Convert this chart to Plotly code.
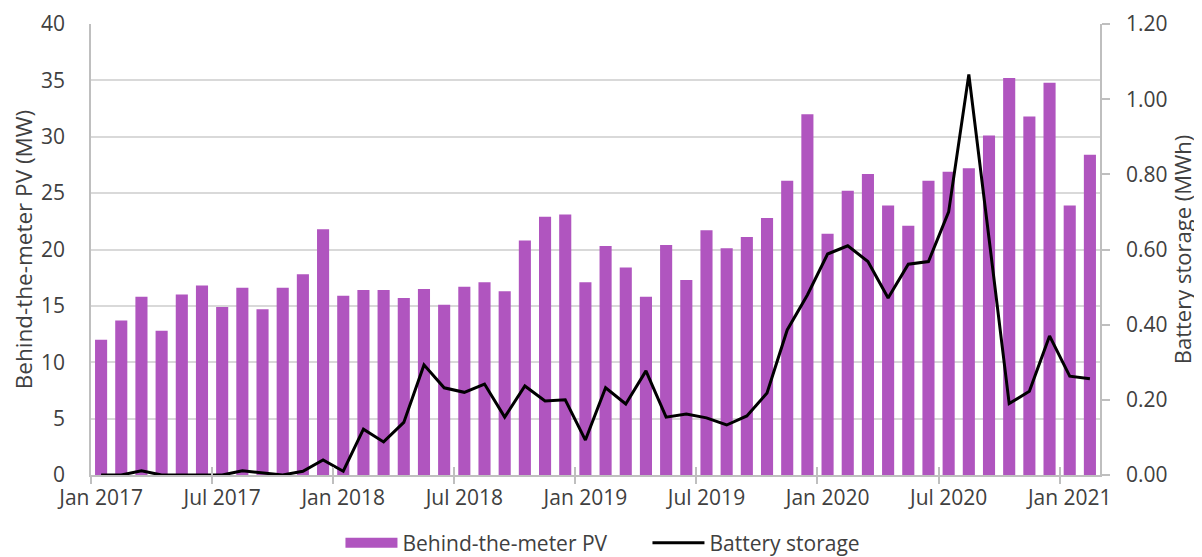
import plotly.graph_objects as go

# monthly data, Jan 2017 - Feb 2021
months = [f"{m} {y}" for y in range(2017, 2022)
          for m in ["Jan", "Feb", "Mar", "Apr", "May", "Jun",
                    "Jul", "Aug", "Sep", "Oct", "Nov", "Dec"]][:50]

pv_mw = [12.0, 13.7, 15.8, 12.8, 16.0, 16.8, 14.9, 16.6, 14.7, 16.6, 17.8, 21.8,
         15.9, 16.4, 16.4, 15.7, 16.5, 15.1, 16.7, 17.1, 16.3, 20.8, 22.9, 23.1,
         17.1, 20.3, 18.4, 15.8, 20.4, 17.3, 21.7, 20.1, 21.1, 22.8, 26.1, 32.0,
         21.4, 25.2, 26.7, 23.9, 22.1, 26.1, 26.9, 27.2, 30.1, 35.2, 31.8, 34.8,
         23.9, 28.4]

battery_mwh = [0.0, 0.0, 0.011, 0.0, 0.0, 0.0, 0.0, 0.011, 0.006, 0.0, 0.01, 0.04,
               0.01, 0.122, 0.088, 0.14, 0.293, 0.232, 0.22, 0.242, 0.154, 0.237, 0.197, 0.2,
               0.093, 0.232, 0.189, 0.277, 0.154, 0.162, 0.152, 0.133, 0.157, 0.218, 0.386, 0.479,
               0.588, 0.61, 0.568, 0.471, 0.561, 0.568, 0.70, 1.066, 0.63, 0.19, 0.223, 0.37,
               0.263, 0.256]

label_idx = list(range(0, 50, 6))
label_text = [months[i] for i in label_idx]
boundaries = [i - 0.5 for i in label_idx]

idx = list(range(len(months)))
font_family = "Open Sans, Noto Sans, sans-serif"
text_col = "#404040"
axis_col = "#bfbfbf"
bar_col = "#b055bf"
fs = 21

fig = go.Figure()
fig.add_trace(go.Bar(
    x=idx, y=pv_mw, name="Behind-the-meter PV", showlegend=False,
    marker=dict(color=bar_col, line_width=0),
    customdata=months, hovertemplate="%{customdata}: %{y} MW<extra></extra>",
))
# legend entry with a wide swatch like the original
fig.add_trace(go.Scatter(
    x=[None], y=[None], name="Behind-the-meter PV", mode="lines",
    line=dict(color=bar_col, width=16), hoverinfo="skip",
))
fig.add_trace(go.Scatter(
    x=idx, y=battery_mwh, name="Battery storage", mode="lines",
    line=dict(color="black", width=3),
    xaxis="x2", yaxis="y2",
    customdata=months, hovertemplate="%{customdata}: %{y} MWh<extra></extra>",
))

fig.update_layout(
    width=1202, height=557,
    margin=dict(l=83, r=110, t=16, b=90, autoexpand=False),
    paper_bgcolor="white", plot_bgcolor="white",
    font=dict(family=font_family, size=fs, color=text_col),
    bargap=0.4,
    xaxis=dict(
        range=[-0.5, 49.5], tickvals=label_idx, ticktext=label_text,
        ticks="", showgrid=False, zeroline=False, automargin=False,
        showline=True, linecolor=axis_col, linewidth=1.5,
        minor=dict(tick0=-0.5, dtick=6, ticks="outside", ticklen=7,
                   tickcolor=axis_col, tickwidth=1.5, showgrid=False),
        ticklabelstandoff=3,
    ),
    xaxis2=dict(
        range=[-0.5, 49.5], overlaying="x", anchor="y2", automargin=False,
        tickvals=boundaries, ticks="inside", ticklen=8,
        tickcolor=axis_col, tickwidth=1.5,
        showticklabels=False, showgrid=False, zeroline=False,
    ),
    yaxis=dict(
        range=[0, 40], dtick=5, showgrid=True, gridcolor="#d9d9d9", gridwidth=1.5,
        zeroline=False, showline=True, linecolor=axis_col, linewidth=1.5,
        ticks="", ticklabelstandoff=20, automargin=False,
        title=dict(text="Behind-the-meter PV (MW)", font=dict(size=22.5), standoff=8),
    ),
    yaxis2=dict(
        range=[0, 1.2], dtick=0.2, tickformat=".2f", overlaying="y", side="right",
        showgrid=False, zeroline=False, showline=True, linecolor=axis_col, linewidth=1.5,
        ticks="outside", ticklen=8, tickcolor=axis_col, tickwidth=1.5,
        ticklabelstandoff=12, automargin=False,
        title=dict(text="Battery storage (MWh)", font=dict(size=22), standoff=8),
    ),
    legend=dict(
        orientation="h", x=0.5515, xanchor="center", y=-0.151, yanchor="middle",
        font=dict(size=fs), traceorder="normal", itemwidth=52,
        entrywidth=240, entrywidthmode="pixels",
    ),
)

fig.write_html("out.html")
